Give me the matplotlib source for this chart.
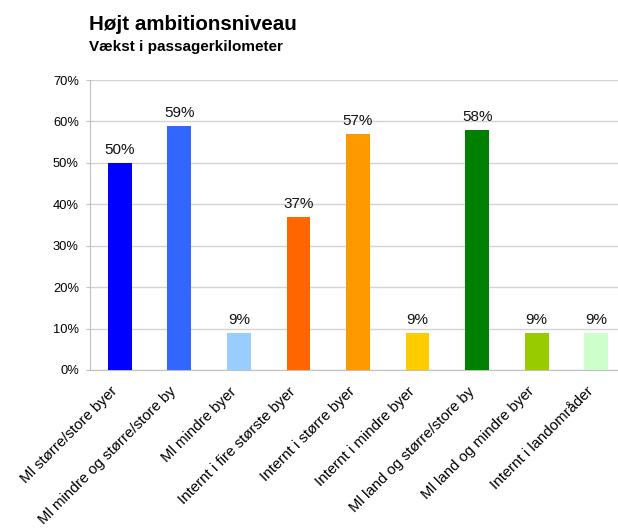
import matplotlib
matplotlib.use("Agg")
import matplotlib.pyplot as plt
import matplotlib.transforms as mtransforms
from matplotlib.ticker import PercentFormatter, MultipleLocator

categories = ["Ml større/store byer", "Ml mindre og større/store by", "Ml mindre byer",
              "Internt i fire største byer", "Internt i større byer", "Internt i mindre byer",
              "Ml land og større/store by", "Ml land og mindre byer", "Internt i landområder"]
values = [50, 59, 9, 37, 57, 9, 58, 9, 9]
colors = ["#0000ff", "#3366ff", "#99ccff", "#ff6600", "#ff9900", "#ffcc00",
          "#008000", "#99cc00", "#ccffcc"]

plt.rcParams['font.family'] = ['Liberation Sans', 'DejaVu Sans']

fig = plt.figure(figsize=(6.18, 5.29), dpi=100)
W, H = 618, 529
left, right, top, bottom = 90, 626, 80, 370
ax = fig.add_axes([left / W, 1 - bottom / H, (right - left) / W, (bottom - top) / H])

x = list(range(len(categories)))
ax.bar(x, values, width=0.4, color=colors, zorder=3)
for xi, v in zip(x, values):
    ax.annotate(f"{v}%", (xi, v), xytext=(0, 4), textcoords="offset points",
                ha="center", va="bottom", fontsize=11, color="#111111")

ax.set_xlim(-0.5, len(categories) - 0.5)
ax.set_ylim(0, 70)
ax.yaxis.set_major_locator(MultipleLocator(10))
ax.yaxis.set_major_formatter(PercentFormatter(decimals=0))
ax.grid(axis="y", color="#d4d4d4", linewidth=1, zorder=0)
ax.set_axisbelow(True)
for s in ["top", "right"]:
    ax.spines[s].set_visible(False)
ax.spines["left"].set_color("#c0c0c0")
ax.spines["bottom"].set_color("#c0c0c0")
ax.tick_params(axis="y", length=3, color="#c0c0c0", labelsize=9.3, pad=5)
ax.tick_params(axis="x", length=0, labelsize=10.8, pad=6)
ax.set_xticks(x)
ax.set_xticklabels(categories, rotation=45, ha="right", rotation_mode="anchor")
offset = mtransforms.ScaledTranslation(-10 / 100, -6 / 100, fig.dpi_scale_trans)
for lbl in ax.get_xticklabels():
    lbl.set_transform(lbl.get_transform() + offset)

fig.text(89 / W, 1 - 30 / H, "Højt ambitionsniveau", fontsize=14.8, fontweight="bold", va="baseline")
fig.text(89 / W, 1 - 51 / H, "Vækst i passagerkilometer", fontsize=11, fontweight="bold", va="baseline")

fig.savefig("out.png", dpi=100)
